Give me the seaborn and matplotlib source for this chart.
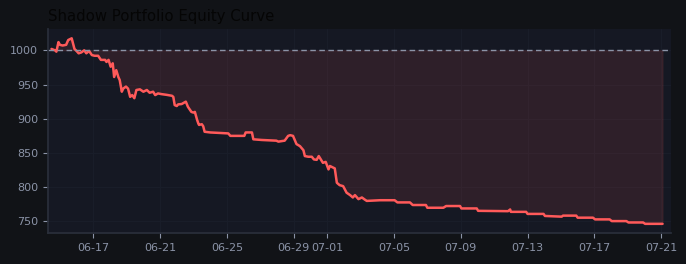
import pandas as pd
import numpy as np
import matplotlib
matplotlib.use('Agg')
import matplotlib.pyplot as plt
import matplotlib.dates as mdates
import seaborn as sns

# Curva de equity (horas desde el inicio, valor de la cartera)
start = pd.Timestamp('2024-06-14 12:00')
hours = [0, 5, 7, 10, 12, 16, 21, 24, 29, 31, 33, 36, 39, 43, 47, 50, 54, 58, 62, 67,
         71, 77, 79, 82, 85, 88, 90, 93, 96, 98, 101, 103, 107, 110, 113, 116, 119, 122,
         127, 132, 137, 141, 146, 149, 153, 158, 165, 173, 175, 177, 180, 182, 187, 193,
         196, 201, 204, 206, 209, 211, 212, 216, 218, 220, 228, 237, 254, 257, 277, 279,
         288, 290, 302, 323, 326, 335, 340, 343, 347, 350, 352, 357, 362, 364, 369, 374,
         377, 381, 384, 387, 390, 394, 398, 400, 404, 407, 410, 414, 419, 424, 429, 433,
         436, 441, 446, 450, 453, 472, 493, 497, 515, 519, 538, 540, 563, 567, 587, 589,
         611, 613, 656, 659, 660, 682, 684, 707, 709, 733, 735, 754, 756, 778, 781, 802,
         805, 826, 829, 850, 853, 878]
equity = [1002, 1000, 998, 1012, 1008, 1007, 1008, 1015, 1017.5, 1010, 1002, 999, 995.6,
          997, 1000, 995.6, 999, 993, 992, 992, 986, 986, 983, 986, 976, 981, 961, 971,
          961, 956.6, 939.5, 944, 947, 944, 932, 934.6, 930, 942, 943, 939.5, 942, 938,
          939.5, 934.6, 937, 936, 935, 933.6, 932, 920, 918.6, 921, 921.5, 925, 917.5,
          910, 909, 910, 899, 893, 891, 892, 889, 881, 880, 879.5, 878.6, 875, 875, 880,
          880, 870, 869, 868, 866.6, 868, 875, 876, 875, 868, 863, 860, 854, 845.5, 844.5,
          844.5, 840.6, 840, 845.5, 840.6, 835.6, 837, 826, 831, 829, 827.5, 806.5, 803,
          801.6, 792, 788.5, 785, 788.5, 782.6, 785, 782, 780, 781, 781, 777.8, 777.8,
          774, 774, 770, 770, 772.5, 772.5, 769, 769, 765.5, 765, 767.5, 764, 764, 761,
          761, 758, 757, 758.5, 758.5, 755.5, 755.5, 753, 753, 750.5, 750.5, 748.5,
          748.5, 746.5, 746.5]
baseline = 1000

df = pd.DataFrame({'fecha': start + pd.to_timedelta(hours, unit='h'), 'equity': equity})

BG = '#111317'
AX_BG = '#151823'
TXT = '#8b93a7'
RED = '#ff5a5a'

sns.set_theme(style='dark', rc={
    'figure.facecolor': BG,
    'axes.facecolor': AX_BG,
    'axes.edgecolor': '#2a2f3b',
    'axes.grid': True,
    'grid.color': '#1a1e2a',
    'grid.linewidth': 0.7,
    'xtick.color': TXT,
    'ytick.color': TXT,
    'xtick.bottom': True,
    'ytick.left': True,
})
plt.rcParams['font.family'] = ['DejaVu Sans']

fig = plt.figure(figsize=(6.86, 2.64), dpi=100)
ax = fig.add_axes([0.07, 0.117, 0.908, 0.773])

ax.fill_between(df['fecha'], df['equity'], baseline, color=RED, alpha=0.11, linewidth=0.8)
sns.lineplot(data=df, x='fecha', y='equity', ax=ax, color=RED, linewidth=1.8)
ax.axhline(baseline, color=TXT, linestyle='--', linewidth=1, dashes=(4, 2.5))

ax.set_xlim(start - pd.Timedelta(hours=5), start + pd.Timedelta(hours=890))
ax.xaxis.set_major_locator(mdates.DayLocator(bymonthday=[1, 5, 9, 13, 17, 21, 25, 29]))
ax.xaxis.set_major_formatter(mdates.DateFormatter('%m-%d'))
ax.tick_params(axis='both', labelsize=8, length=3.5, width=0.8, color=TXT)
ax.set_xlabel('')
ax.set_ylabel('')
for s in ['top', 'right']:
    ax.spines[s].set_visible(False)

ax.set_title('Shadow Portfolio Equity Curve', loc='left', fontsize=10.75, color='#050505')

fig.savefig('out.png', dpi=100, facecolor=BG)
